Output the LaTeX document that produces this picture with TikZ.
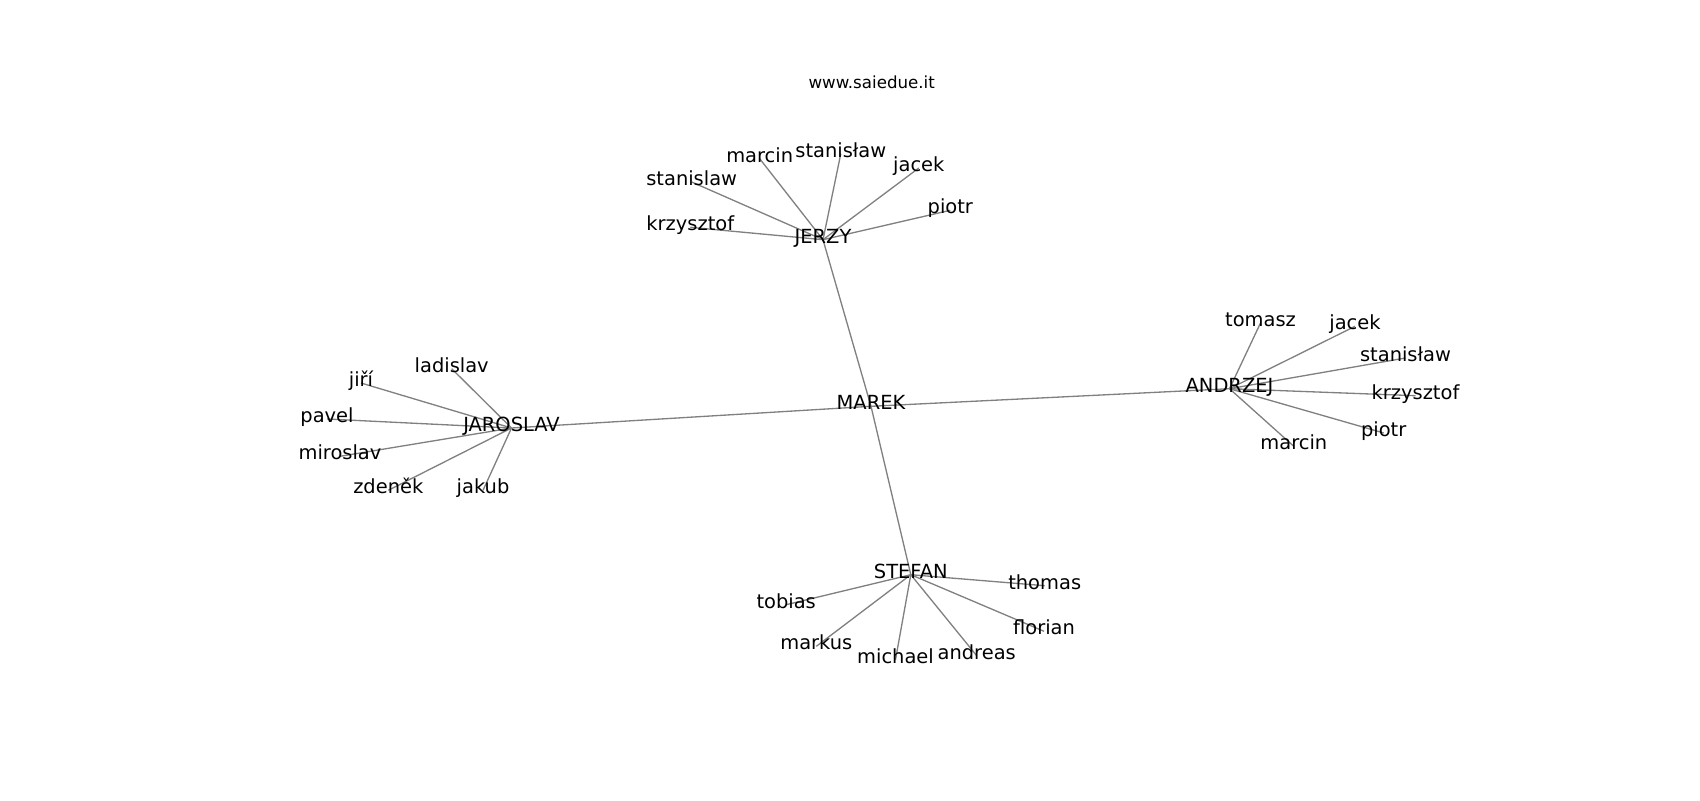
\documentclass[tikz,border=0pt]{standalone}
\usepackage{fontspec}
\setmainfont{DejaVu Sans}
\usetikzlibrary{backgrounds}
\tikzset{
  lbl/.style={inner sep=0pt, anchor=center, text height=0.76em, text depth=0.24em,
    font=\fontsize{14}{16}\selectfont, text=black},
  edge/.style={draw=gray, line width=0.95pt},
  ttl/.style={inner sep=0pt, anchor=base, font=\fontsize{12}{14}\selectfont}
}
\begin{document}
\begin{tikzpicture}[x=0.72pt, y=-0.72pt]
\useasboundingbox (0,0) rectangle (1700,800);
\node[ttl] (title) at (871.7,88.3) {www.saiedue.it};
\begin{scope}[shift={(0,3)}]
% hubs
\node[lbl] (marek) at (871,403.3) {MAREK};
\node[lbl] (jerzy) at (823,236.7) {JERZY};
\node[lbl] (jaroslav) at (511.5,425) {JAROSLAV};
\node[lbl] (andrzej) at (1229.5,385.7) {ANDRZEJ};
\node[lbl] (stefan) at (910.8,571.7) {STEFAN};
% JERZY leaves
\node[lbl] (j1) at (759.7,155.7) {marcin};
\node[lbl] (j2) at (840.8,150.7) {stanisław};
\node[lbl] (j3) at (918.8,165) {jacek};
\node[lbl] (j4) at (950.3,207.3) {piotr};
\node[lbl] (j5) at (691.7,179) {stanislaw};
\node[lbl] (j6) at (690.3,224.3) {krzysztof};
% JAROSLAV leaves
\node[lbl] (r1) at (451.7,365.7) {ladislav};
\node[lbl] (r2) at (361,380) {jiří};
\node[lbl] (r3) at (327,416) {pavel};
\node[lbl] (r4) at (340,453.3) {miroslav};
\node[lbl] (r5) at (388.3,487.3) {zdeněk};
\node[lbl] (r6) at (483,487.3) {jakub};
% ANDRZEJ leaves
\node[lbl] (a1) at (1260.5,320) {tomasz};
\node[lbl] (a2) at (1355,323.3) {jacek};
\node[lbl] (a3) at (1405.5,355) {stanisław};
\node[lbl] (a4) at (1415.5,392.7) {krzysztof};
\node[lbl] (a5) at (1383.7,430) {piotr};
\node[lbl] (a6) at (1293.8,443.3) {marcin};
% STEFAN leaves
\node[lbl] (s1) at (1044.7,582.7) {thomas};
\node[lbl] (s2) at (786.2,601.7) {tobias};
\node[lbl] (s3) at (1044,628.3) {florian};
\node[lbl] (s4) at (816.3,643.3) {markus};
\node[lbl] (s5) at (895.5,656.7) {michael};
\node[lbl] (s6) at (976.7,652.7) {andreas};
\end{scope}
\begin{pgfonlayer}{background}
\foreach \h in {jerzy,jaroslav,andrzej,stefan}
  \draw[edge] (marek.center) -- (\h.center);
\foreach \l in {j1,j2,j3,j4,j5,j6}
  \draw[edge] (jerzy.center) -- (\l.center);
\foreach \l in {r1,r2,r3,r4,r5,r6}
  \draw[edge] (jaroslav.center) -- (\l.center);
\foreach \l in {a1,a2,a3,a4,a5,a6}
  \draw[edge] (andrzej.center) -- (\l.center);
\foreach \l in {s1,s2,s3,s4,s5,s6}
  \draw[edge] (stefan.center) -- (\l.center);
\end{pgfonlayer}
\end{tikzpicture}
\end{document}
